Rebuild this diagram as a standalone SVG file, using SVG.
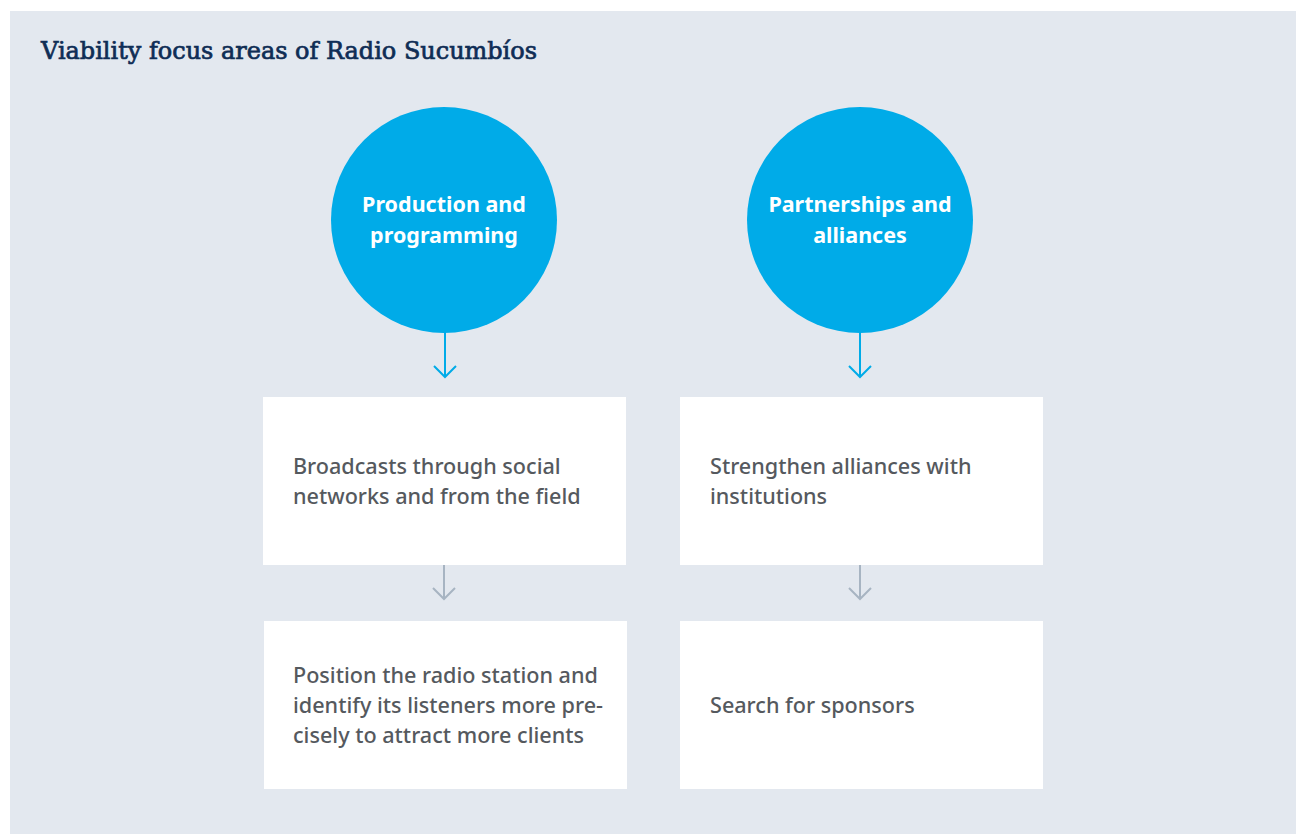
<svg xmlns="http://www.w3.org/2000/svg" width="1301" height="834" viewBox="0 0 1301 834">
<style>
.circ{fill:#00abe8}
.ct{font-family:"Noto Sans","Open Sans",sans-serif;font-size:21.5px;font-weight:bold;fill:#ffffff;text-anchor:middle}
.box{fill:#ffffff}
.bt{font-family:"Noto Sans","Open Sans",sans-serif;font-size:21.6px;font-weight:500;fill:#55595e}
.title{font-family:"DejaVu Serif","Liberation Serif",serif;font-size:24px;fill:#0f2d55;stroke:#0f2d55;stroke-width:0.7}
.ab{stroke:#00abe8;stroke-width:2;fill:none}
.ag{stroke:#a7b4c2;stroke-width:2;fill:none}
</style>
<rect x="0" y="0" width="1301" height="834" fill="#ffffff"/>
<rect x="10" y="11" width="1286" height="823" fill="#e3e8ef"/>
<text class="title" x="41" y="59" textLength="496" lengthAdjust="spacingAndGlyphs">Viability focus areas of Radio Sucumbíos</text>
<g id="connectors">
<path class="ab" d="M445 332V377M434 366L445 377L456 366"/>
<path class="ab" d="M860 332V377M849 366L860 377L871 366"/>
<path class="ag" d="M444 565V599M433 588L444 599L455 588"/>
<path class="ag" d="M860 565V599M849 588L860 599L871 588"/>
</g>
<g id="n1">
<circle class="circ" cx="444" cy="220" r="113"/>
<text class="ct" x="444" y="212">Production and</text>
<text class="ct" x="444" y="243">programming</text>
</g>
<g id="n2">
<circle class="circ" cx="860" cy="220" r="113"/>
<text class="ct" x="860" y="212">Partnerships and</text>
<text class="ct" x="860" y="243">alliances</text>
</g>
<g id="n3">
<rect class="box" x="263" y="397" width="363" height="168"/>
<text class="bt" x="293" y="474">Broadcasts through social</text>
<text class="bt" x="293" y="504">networks and from the field</text>
</g>
<g id="n4">
<rect class="box" x="264" y="621" width="363" height="168"/>
<text class="bt" x="293" y="683">Position the radio station and</text>
<text class="bt" x="293" y="713">identify its listeners more pre-</text>
<text class="bt" x="293" y="743">cisely to attract more clients</text>
</g>
<g id="n5">
<rect class="box" x="680" y="397" width="363" height="168"/>
<text class="bt" x="710" y="474">Strengthen alliances with</text>
<text class="bt" x="710" y="504">institutions</text>
</g>
<g id="n6">
<rect class="box" x="680" y="621" width="363" height="168"/>
<text class="bt" x="710" y="713">Search for sponsors</text>
</g>
</svg>
